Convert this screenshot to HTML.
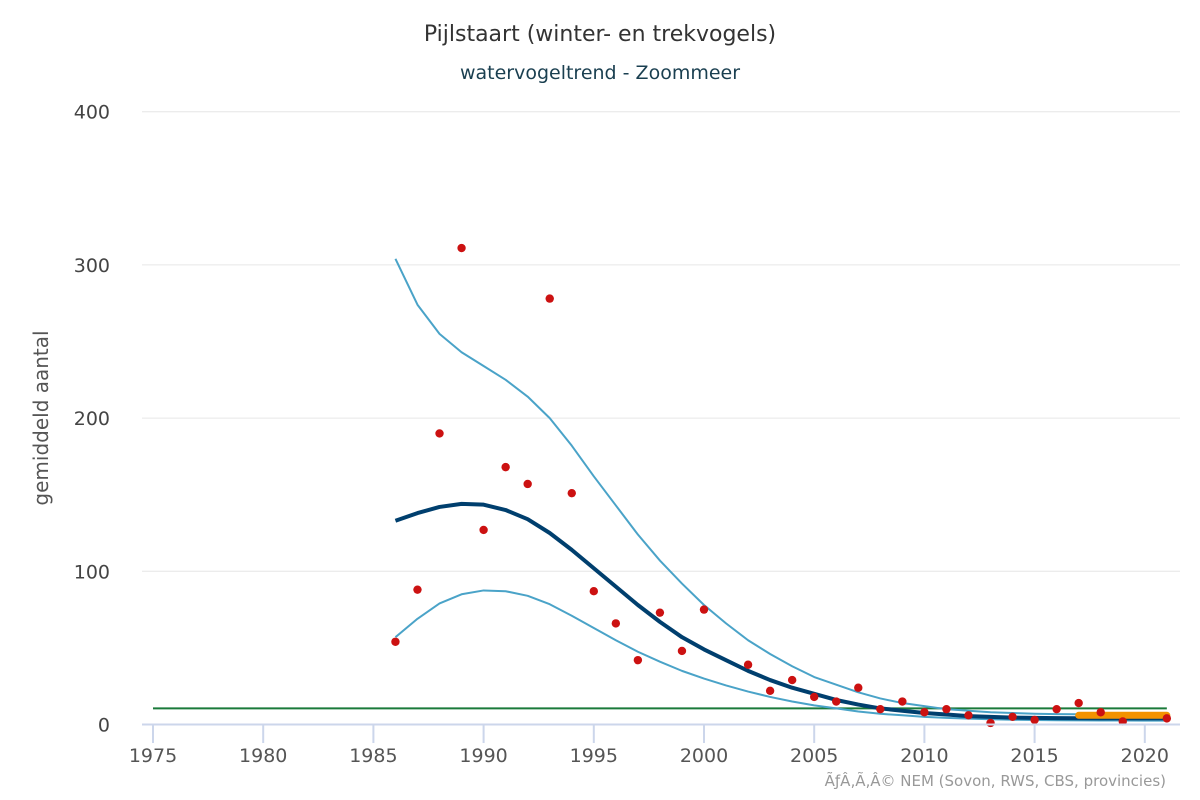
<!DOCTYPE html>
<html><head><meta charset="utf-8">
<style>
html,body{margin:0;padding:0;background:#fff;}
svg{display:block;font-family:"DejaVu Sans","Liberation Sans",sans-serif;}
</style></head>
<body>
<svg id="chart" width="1200" height="800" viewBox="0 0 1200 800">
<text x="600" y="41" text-anchor="middle" font-size="22" fill="#333">Pijlstaart (winter- en trekvogels)</text>
<text x="600" y="79" text-anchor="middle" font-size="19" fill="#1a3f50">watervogeltrend - Zoommeer</text>
<text transform="translate(48,418) rotate(-90)" text-anchor="middle" font-size="20" fill="#555">gemiddeld aantal</text>
<text x="1166" y="786" text-anchor="end" font-size="15" fill="#999">ÃƒÂ‚Ã‚Â© NEM (Sovon, RWS, CBS, provincies)</text>
<g id="grid"></g><g id="series"></g><g id="axes"></g>
</svg>
<script>
const yTicks=[0,100,200,300,400];
const xTicks=[1975,1980,1985,1990,1995,2000,2005,2010,2015,2020];
const trendYears=[1986,1987,1988,1989,1990,1991,1992,1993,1994,1995,1996,1997,1998,1999,2000,2001,2002,2003,2004,2005,2006,2007,2008,2009,2010,2011,2012,2013,2014,2015,2016,2017,2018,2019,2020,2021];
const trend=[133,138,142,144,143.5,140,134,125,114,102,90,78,67,57,49,42,35,29,24,20,16,13,10.5,9,7.5,6.5,5.5,5,4.5,4.3,4.2,4.1,4,4,4,4];
const upper=[304,274,255,243,234,225,214,200,182,162,143,124,107,92,78,66,55,46,38,31,26,21,17,14,12,10,9,8,7.5,7,6.8,6.7,6.6,6.5,6.5,6.5];
const lower=[57,69,79,85,87.5,87,84,78.5,71,63,55,47.5,41,35,30,25.5,21.5,18,15,12.5,10.5,8.5,7,6,5,4.3,3.8,3.4,3.1,2.9,2.8,2.7,2.6,2.6,2.5,2.5];
const pointYears=[1986,1987,1988,1989,1990,1991,1992,1993,1994,1995,1996,1997,1998,1999,2000,2002,2003,2004,2005,2006,2007,2008,2009,2010,2011,2012,2013,2014,2015,2016,2017,2018,2019,2021];
const counts=[54,88,190,311,127,168,157,278,151,87,66,42,73,48,75,39,22,29,18,15,24,10,15,8,10,6,1,5,3,10,14,8,2,4];
const refLevel=[10.5];
const recentYears=[2017,2021];
const recentLevel=[6];

const NS="http://www.w3.org/2000/svg";
const X=y=>153+(y-1975)*22.04;
const Y=v=>724.5-v*1.532;
function mk(p,t,a){const e=document.createElementNS(NS,t);for(const k in a)e.setAttribute(k,a[k]);p.appendChild(e);return e;}
const grid=document.getElementById('grid'),ser=document.getElementById('series'),ax=document.getElementById('axes');
yTicks.forEach(v=>{
  if(v>0){const l=mk(grid,'line',{x1:142,x2:1180,y1:Y(v),y2:Y(v),stroke:'#e6e6e6','stroke-width':1});
  
  }
  const t=mk(ax,'text',{x:110,y:Y(v)+7,'text-anchor':'end','font-size':19,fill:'#444'});t.textContent=v;
  
  
});
const axl=mk(ax,'line',{x1:142,x2:1180,y1:724.5,y2:724.5,stroke:'#ccd6eb','stroke-width':2});


xTicks.forEach(y=>{
  const tk=mk(ax,'line',{x1:X(y),x2:X(y),y1:725,y2:743,stroke:'#ccd6eb','stroke-width':2});
  
  
  const t=mk(ax,'text',{x:X(y),y:762,'text-anchor':'middle','font-size':19,fill:'#555'});t.textContent=y;
  
  
});
const g=mk(ser,'line',{x1:X(1975),x2:X(2021),y1:Y(refLevel[0]),y2:Y(refLevel[0]),stroke:'#1a7a3a','stroke-width':2});


function pl(vals,col,w,name){
  const p=mk(ser,'polyline',{points:trendYears.map((y,i)=>X(y)+','+Y(vals[i])).join(' '),fill:'none',stroke:col,'stroke-width':w,'stroke-linejoin':'round'});
  
  
}
pl(upper,'#4aa3c8',2,'upper-confidence-line');
pl(lower,'#4aa3c8',2,'lower-confidence-line');
pl(trend,'#003f6e',4,'trend-line');
const o=mk(ser,'line',{x1:X(recentYears[0]),x2:X(recentYears[1]),y1:Y(recentLevel[0]),y2:Y(recentLevel[0]),stroke:'#f39200','stroke-width':7,'stroke-linecap':'round'});


pointYears.forEach((y,i)=>{
  const c=mk(ser,'circle',{cx:X(y),cy:Y(counts[i]),r:4.2,fill:'#cc1111'});
  
  
});
</script>
</body></html>
